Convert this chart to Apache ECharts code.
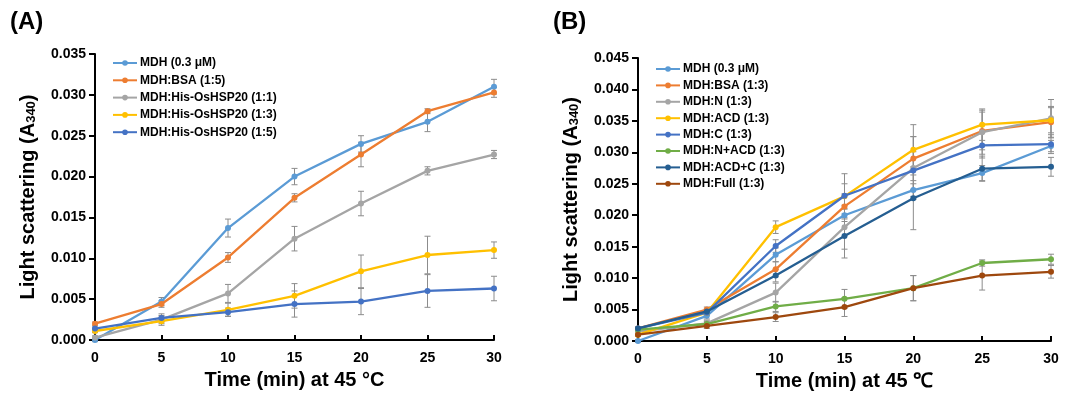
<!DOCTYPE html>
<html>
<head>
<meta charset="utf-8">
<script src="https://cdn.jsdelivr.net/npm/echarts@6/dist/echarts.min.js"></script>
<style>
  html, body { margin: 0; padding: 0; background: #fff; }
  #chart { width: 1073px; height: 393px; }
</style>
</head>
<body>
<div id="chart"></div>
<script>
// time points (min)
const times = [0, 5, 10, 15, 20, 25, 30];

// panel A
const namesA = ["MDH (0.3 \u03bcM)", "MDH:BSA (1:5)", "MDH:His-OsHSP20 (1:1)", "MDH:His-OsHSP20 (1:3)", "MDH:His-OsHSP20 (1:5)"];
const colorsA = ["#5B9BD5", "#ED7D31", "#A5A5A5", "#FFC000", "#4472C4"];
const valuesA = [
    [0.0000, 0.0047, 0.0137, 0.0200, 0.0240, 0.0267, 0.0310],
    [0.0020, 0.0044, 0.0101, 0.0174, 0.0227, 0.0280, 0.0303],
    [0.0003, 0.0025, 0.0057, 0.0124, 0.0167, 0.0207, 0.0227],
    [0.0011, 0.0023, 0.0037, 0.0054, 0.0084, 0.0104, 0.0110],
    [0.0014, 0.0027, 0.0034, 0.0044, 0.0047, 0.0060, 0.0063]
];
const errorsA = [
    [0.0002, 0.0005, 0.0011, 0.0010, 0.0010, 0.0012, 0.0009],
    [0.0002, 0.0004, 0.0006, 0.0005, 0.0015, 0.0003, 0.0006],
    [0.0002, 0.0005, 0.0011, 0.0015, 0.0015, 0.0005, 0.0005],
    [0.0002, 0.0005, 0.0008, 0.0015, 0.0020, 0.0023, 0.0010],
    [0.0002, 0.0005, 0.0005, 0.0016, 0.0016, 0.0020, 0.0015]
];

// panel B
const namesB = ["MDH (0.3 \u03bcM)", "MDH:BSA (1:3)", "MDH:N (1:3)", "MDH:ACD (1:3)", "MDH:C (1:3)", "MDH:N+ACD (1:3)", "MDH:ACD+C (1:3)", "MDH:Full (1:3)"];
const colorsB = ["#5B9BD5", "#ED7D31", "#A5A5A5", "#FFC000", "#4472C4", "#70AD47", "#255E91", "#9E480E"];
const valuesB = [
    [0.0000, 0.0040, 0.0137, 0.0200, 0.0240, 0.0267, 0.0310],
    [0.0020, 0.0050, 0.0114, 0.0214, 0.0290, 0.0334, 0.0348],
    [0.0015, 0.0028, 0.0077, 0.0181, 0.0275, 0.0332, 0.0354],
    [0.0010, 0.0045, 0.0181, 0.0230, 0.0304, 0.0344, 0.0351],
    [0.0020, 0.0045, 0.0151, 0.0231, 0.0271, 0.0311, 0.0313],
    [0.0018, 0.0027, 0.0055, 0.0067, 0.0084, 0.0124, 0.0130],
    [0.0020, 0.0047, 0.0104, 0.0167, 0.0227, 0.0274, 0.0277],
    [0.0010, 0.0024, 0.0038, 0.0054, 0.0084, 0.0104, 0.0110]
];
const errorsB = [
    [0.0002, 0.0005, 0.0011, 0.0010, 0.0010, 0.0012, 0.0009],
    [0.0002, 0.0004, 0.0012, 0.0020, 0.0035, 0.0030, 0.0025],
    [0.0002, 0.0005, 0.0015, 0.0035, 0.0050, 0.0035, 0.0030],
    [0.0002, 0.0004, 0.0010, 0.0020, 0.0040, 0.0025, 0.0020],
    [0.0002, 0.0004, 0.0010, 0.0035, 0.0030, 0.0020, 0.0015],
    [0.0002, 0.0004, 0.0008, 0.0015, 0.0020, 0.0005, 0.0008],
    [0.0002, 0.0004, 0.0010, 0.0035, 0.0050, 0.0020, 0.0015],
    [0.0002, 0.0004, 0.0007, 0.0015, 0.0020, 0.0023, 0.0010]
];

const font = "'Liberation Sans', Arial, sans-serif";

const chart = echarts.init(document.getElementById("chart"), null, {renderer: "canvas"});

function errorBarSeries(values, errors, axisIndex) {
    const data = [];
    values.forEach((row, s) => {
        row.forEach((v, i) => {
            data.push([times[i], v - errors[s][i], v + errors[s][i]]);
        });
    });
    return {
        type: "custom",
        xAxisIndex: axisIndex,
        yAxisIndex: axisIndex,
        silent: true,
        z: 1,
        renderItem: function (params, api) {
            const x = api.value(0);
            const lo = api.coord([x, api.value(1)]);
            const hi = api.coord([x, api.value(2)]);
            const cap = 3;
            const style = {stroke: "#8c8c8c", lineWidth: 1};
            return {
                type: "group",
                children: [
                    {type: "line", shape: {x1: lo[0], y1: lo[1], x2: hi[0], y2: hi[1]}, style: style},
                    {type: "line", shape: {x1: lo[0] - cap, y1: lo[1], x2: lo[0] + cap, y2: lo[1]}, style: style},
                    {type: "line", shape: {x1: hi[0] - cap, y1: hi[1], x2: hi[0] + cap, y2: hi[1]}, style: style}
                ]
            };
        },
        encode: {x: 0, y: [1, 2]},
        data: data
    };
}

function lineSeries(names, colors, values, axisIndex) {
    return names.map((name, s) => ({
        type: "line",
        name: name,
        xAxisIndex: axisIndex,
        yAxisIndex: axisIndex,
        color: colors[s],
        symbol: "circle",
        symbolSize: 6,
        lineStyle: {width: 2.3},
        z: 2 + s,
        data: values[s].map((v, i) => [times[i], v])
    }));
}

function xAxis(gridIndex, nameText) {
    return {
        type: "value",
        gridIndex: gridIndex,
        min: 0,
        max: 30,
        interval: 5,
        name: nameText,
        nameLocation: "middle",
        nameGap: 30,
        nameTextStyle: {fontFamily: font, fontWeight: "bold", fontSize: 20, color: "#000"},
        axisLine: {lineStyle: {color: "#000", width: 2}},
        axisTick: {inside: true, length: 5, lineStyle: {color: "#000", width: 2}},
        axisLabel: {fontFamily: font, fontWeight: "bold", fontSize: 14, color: "#000", margin: 11},
        splitLine: {show: false}
    };
}

function yAxis(gridIndex, max) {
    return {
        type: "value",
        gridIndex: gridIndex,
        min: 0,
        max: max,
        interval: 0.005,
        name: "{a|Light scattering (A}{s|340}{a|)}",
        nameLocation: "middle",
        nameRotate: 90,
        nameGap: 57,
        nameTextStyle: {
            rich: {
                a: {fontFamily: font, fontWeight: "bold", fontSize: 20, color: "#000"},
                s: {fontFamily: font, fontWeight: "bold", fontSize: 13, color: "#000", padding: [7, 0, 0, 0]}
            }
        },
        axisLine: {show: true, lineStyle: {color: "#000", width: 2}},
        axisTick: {show: true, length: 6, lineStyle: {color: "#000", width: 2}},
        axisLabel: {fontFamily: font, fontWeight: "bold", fontSize: 14, color: "#000", margin: 9,
            formatter: v => v.toFixed(3)},
        splitLine: {show: false}
    };
}

function legend(names, left, top, gap) {
    return {
        orient: "vertical",
        left: left,
        top: top,
        itemGap: gap,
        itemWidth: 24,
        itemHeight: 7,
        padding: 0,
        data: names,
        textStyle: {fontFamily: font, fontWeight: "bold", fontSize: 12, color: "#000", padding: [0, 0, 0, -2]}
    };
}

chart.setOption({
    animation: false,
    backgroundColor: "#fff",
    graphic: [
        {type: "text", left: 10, top: 10, style: {text: "(A)", font: "bold 24px " + font, fill: "#000"}},
        {type: "text", left: 553, top: 10, style: {text: "(B)", font: "bold 24px " + font, fill: "#000"}}
    ],
    grid: [
        {left: 95, top: 54, width: 399, height: 286, containLabel: false, outerBoundsMode: "none"},
        {left: 638, top: 58, width: 413, height: 283, containLabel: false, outerBoundsMode: "none"}
    ],
    legend: [
        legend(namesA, 112, 57, 5.3),
        legend(namesB, 655, 63, 4.4)
    ],
    xAxis: [xAxis(0, "Time (min) at 45 \u00b0C"), xAxis(1, "Time (min) at 45 \u2103")],
    yAxis: [yAxis(0, 0.035), yAxis(1, 0.045)],
    series: [
        errorBarSeries(valuesA, errorsA, 0),
        errorBarSeries(valuesB, errorsB, 1),
        ...lineSeries(namesA, colorsA, valuesA, 0),
        ...lineSeries(namesB, colorsB, valuesB, 1)
    ]
});
</script>
</body>
</html>
